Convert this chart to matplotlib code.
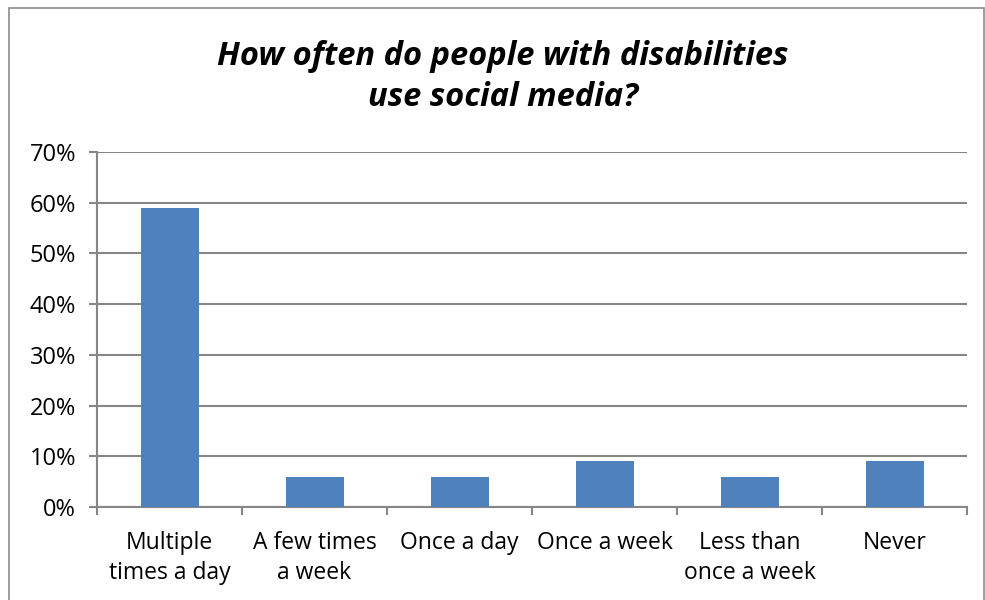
import matplotlib.pyplot as plt
from matplotlib.patches import Rectangle
import numpy as np

categories = ["Multiple\ntimes a day", "A few times\na week", "Once a day",
              "Once a week", "Less than\nonce a week", "Never"]
values = [59, 6, 6, 9, 6, 9]
yticks = [0, 10, 20, 30, 40, 50, 60, 70]

plt.rcParams['font.family'] = ['Open Sans', 'DejaVu Sans']

fig = plt.figure(figsize=(9.85, 6), dpi=100)
ax = fig.add_axes([97/985, 1 - 507/600, (967 - 97)/985, (507 - 152)/600])

x = np.arange(len(categories))
ax.bar(x, values, width=0.4, color="#4F81BD", zorder=3)

ax.set_xlim(-0.5, len(categories) - 0.5)
ax.set_ylim(0, 70)
ax.set_yticks(yticks)
ax.set_yticklabels([f"{v}%" for v in yticks])
ax.set_xticks(np.arange(-0.5, len(categories)), minor=False)
ax.set_xticklabels([])
ax.set_xticks(x, minor=True)
ax.set_xticklabels(categories, minor=True, linespacing=1.35)
ax.tick_params(axis='x', which='minor', length=0, pad=17, labelsize=16.5)
ax.tick_params(axis='x', which='major', length=6, width=1.5, color="#868686")
ax.tick_params(axis='y', length=6, width=1.5, color="#868686", labelsize=17, pad=9)

ax.grid(axis='y', color="#868686", linewidth=1.5, zorder=0)
for s in ['top', 'right']:
    ax.spines[s].set_visible(False)
for s in ['left', 'bottom']:
    ax.spines[s].set_color("#868686")
    ax.spines[s].set_linewidth(1.5)

fig.text(503/985, 1 - 77/600, "How often do people with disabilities\nuse social media?",
         ha='center', va='center', fontsize=23.5, fontweight='bold', style='italic',
         linespacing=1.35)

fig.patches.append(Rectangle((9/985, -0.01), 975/985, 1 - 8/600 + 0.01,
                             transform=fig.transFigure, fill=False,
                             edgecolor="#8c8c8c", linewidth=1.2))

fig.savefig("out.png", dpi=100)
